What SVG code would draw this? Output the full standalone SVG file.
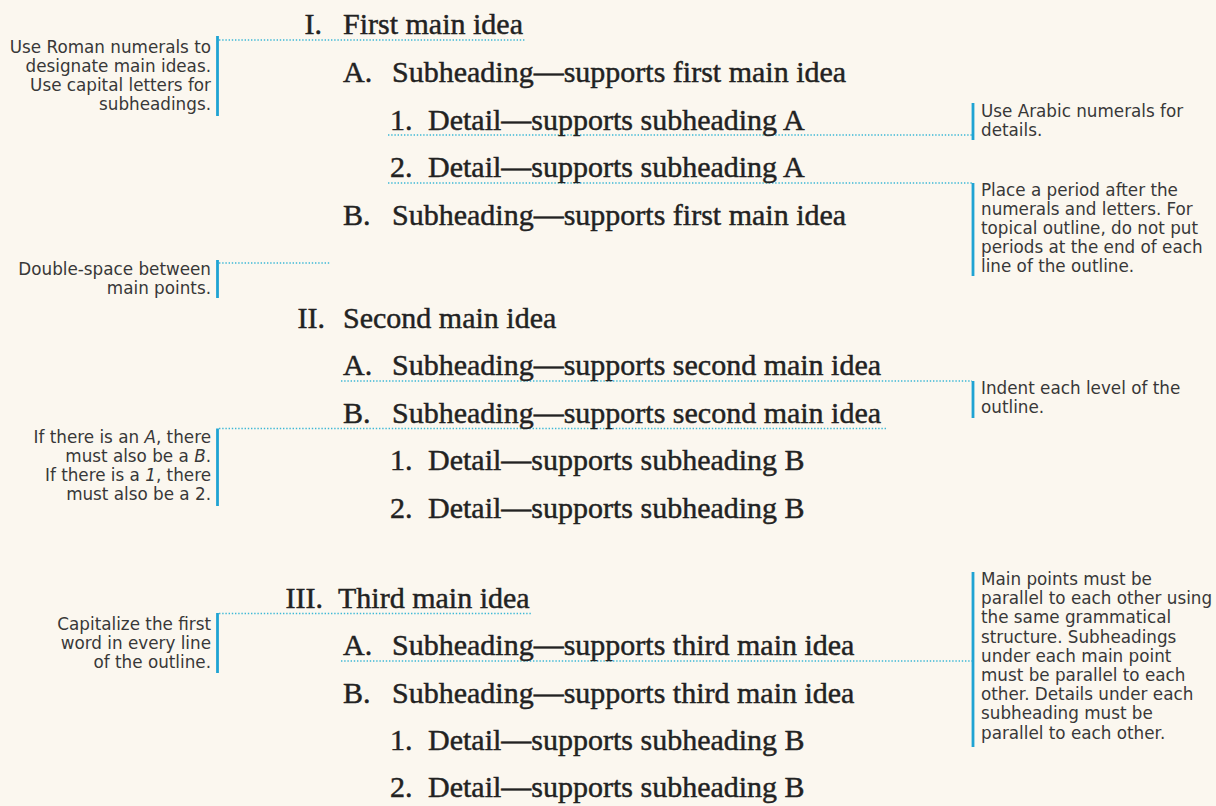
<svg xmlns="http://www.w3.org/2000/svg" width="1216" height="806" viewBox="0 0 1216 806">
<style>
.ol{font-family:"Liberation Serif","Times New Roman",serif;font-size:30px;fill:#222;stroke:#222;stroke-width:0.45}
.an{font-family:"DejaVu Sans","Liberation Sans",sans-serif;font-size:16.8px;fill:#383838}
.r{text-anchor:end}
.bar{stroke:#1FA3D3;stroke-width:2.8;fill:none}
.dot{stroke:#3DB8D6;stroke-width:1.7;stroke-dasharray:1.4 1.8;fill:none}
</style>
<rect width="1216" height="806" fill="#FBF7EF"/>

<g id="connectors">
<line class="dot" x1="219" y1="40" x2="526" y2="40"/>
<line class="dot" x1="388" y1="135" x2="972" y2="135"/>
<line class="dot" x1="388" y1="183" x2="972" y2="183"/>
<line class="dot" x1="219" y1="263" x2="330" y2="263"/>
<line class="dot" x1="341" y1="381" x2="972" y2="381"/>
<line class="dot" x1="219" y1="428.5" x2="887" y2="428.5"/>
<line class="dot" x1="219" y1="613.5" x2="532" y2="613.5"/>
<line class="dot" x1="341" y1="661" x2="972" y2="661"/>
</g>

<g id="outline-I"><text class="ol r" x="322" y="34">I.</text><text class="ol" x="343" y="34">First main idea</text></g>
<g id="outline-I-A"><text class="ol" x="343" y="82">A.</text><text class="ol" x="392" y="82">Subheading—supports first main idea</text></g>
<g id="outline-I-A-1"><text class="ol" x="390" y="129.5">1.</text><text class="ol" x="428" y="129.5">Detail—supports subheading A</text></g>
<g id="outline-I-A-2"><text class="ol" x="390" y="177">2.</text><text class="ol" x="428" y="177">Detail—supports subheading A</text></g>
<g id="outline-I-B"><text class="ol" x="343" y="225">B.</text><text class="ol" x="392" y="225">Subheading—supports first main idea</text></g>

<g id="outline-II"><text class="ol r" x="325" y="328">II.</text><text class="ol" x="343" y="328">Second main idea</text></g>
<g id="outline-II-A"><text class="ol" x="343" y="375">A.</text><text class="ol" x="392" y="375">Subheading—supports second main idea</text></g>
<g id="outline-II-B"><text class="ol" x="343" y="422.5">B.</text><text class="ol" x="392" y="422.5">Subheading—supports second main idea</text></g>
<g id="outline-II-B-1"><text class="ol" x="390" y="470">1.</text><text class="ol" x="428" y="470">Detail—supports subheading B</text></g>
<g id="outline-II-B-2"><text class="ol" x="390" y="517.5">2.</text><text class="ol" x="428" y="517.5">Detail—supports subheading B</text></g>

<g id="outline-III"><text class="ol r" x="323" y="607.5">III.</text><text class="ol" x="338" y="607.5">Third main idea</text></g>
<g id="outline-III-A"><text class="ol" x="343" y="655">A.</text><text class="ol" x="392" y="655">Subheading—supports third main idea</text></g>
<g id="outline-III-B"><text class="ol" x="343" y="702.5">B.</text><text class="ol" x="392" y="702.5">Subheading—supports third main idea</text></g>
<g id="outline-III-B-1"><text class="ol" x="390" y="750">1.</text><text class="ol" x="428" y="750">Detail—supports subheading B</text></g>
<g id="outline-III-B-2"><text class="ol" x="390" y="797">2.</text><text class="ol" x="428" y="797">Detail—supports subheading B</text></g>

<g id="note-roman">
<line class="bar" x1="217.5" y1="36" x2="217.5" y2="116"/>
<text class="an r" x="211" y="53">Use Roman numerals to</text>
<text class="an r" x="211" y="72">designate main ideas.</text>
<text class="an r" x="211" y="91">Use capital letters for</text>
<text class="an r" x="211" y="110">subheadings.</text>
</g>
<g id="note-double">
<line class="bar" x1="217.5" y1="260" x2="217.5" y2="298"/>
<text class="an r" x="211" y="275">Double-space between</text>
<text class="an r" x="211" y="294">main points.</text>
</g>
<g id="note-ab">
<line class="bar" x1="217.5" y1="428.5" x2="217.5" y2="506"/>
<text class="an r" x="211" y="443">If there is an <tspan font-style="italic">A</tspan>, there</text>
<text class="an r" x="211" y="462">must also be a <tspan font-style="italic">B</tspan>.</text>
<text class="an r" x="211" y="481">If there is a <tspan font-style="italic">1</tspan>, there</text>
<text class="an r" x="211" y="500">must also be a 2.</text>
</g>
<g id="note-capitalize">
<line class="bar" x1="217.5" y1="613" x2="217.5" y2="673"/>
<text class="an r" x="211" y="630">Capitalize the first</text>
<text class="an r" x="211" y="649">word in every line</text>
<text class="an r" x="211" y="668">of the outline.</text>
</g>

<g id="note-arabic">
<line class="bar" x1="973" y1="103" x2="973" y2="140"/>
<text class="an" x="981" y="117">Use Arabic numerals for</text>
<text class="an" x="981" y="136">details.</text>
</g>
<g id="note-period">
<line class="bar" x1="973" y1="183" x2="973" y2="276"/>
<text class="an" x="981" y="196">Place a period after the</text>
<text class="an" x="981" y="215">numerals and letters. For</text>
<text class="an" x="981" y="234">topical outline, do not put</text>
<text class="an" x="981" y="253">periods at the end of each</text>
<text class="an" x="981" y="272">line of the outline.</text>
</g>
<g id="note-indent">
<line class="bar" x1="973" y1="381" x2="973" y2="418"/>
<text class="an" x="981" y="394">Indent each level of the</text>
<text class="an" x="981" y="413">outline.</text>
</g>
<g id="note-parallel">
<line class="bar" x1="973" y1="572" x2="973" y2="747"/>
<text class="an" x="981" y="585">Main points must be</text>
<text class="an" x="981" y="604.2">parallel to each other using</text>
<text class="an" x="981" y="623.4">the same grammatical</text>
<text class="an" x="981" y="642.6">structure. Subheadings</text>
<text class="an" x="981" y="661.8">under each main point</text>
<text class="an" x="981" y="681">must be parallel to each</text>
<text class="an" x="981" y="700.2">other. Details under each</text>
<text class="an" x="981" y="719.4">subheading must be</text>
<text class="an" x="981" y="738.6">parallel to each other.</text>
</g>
</svg>
